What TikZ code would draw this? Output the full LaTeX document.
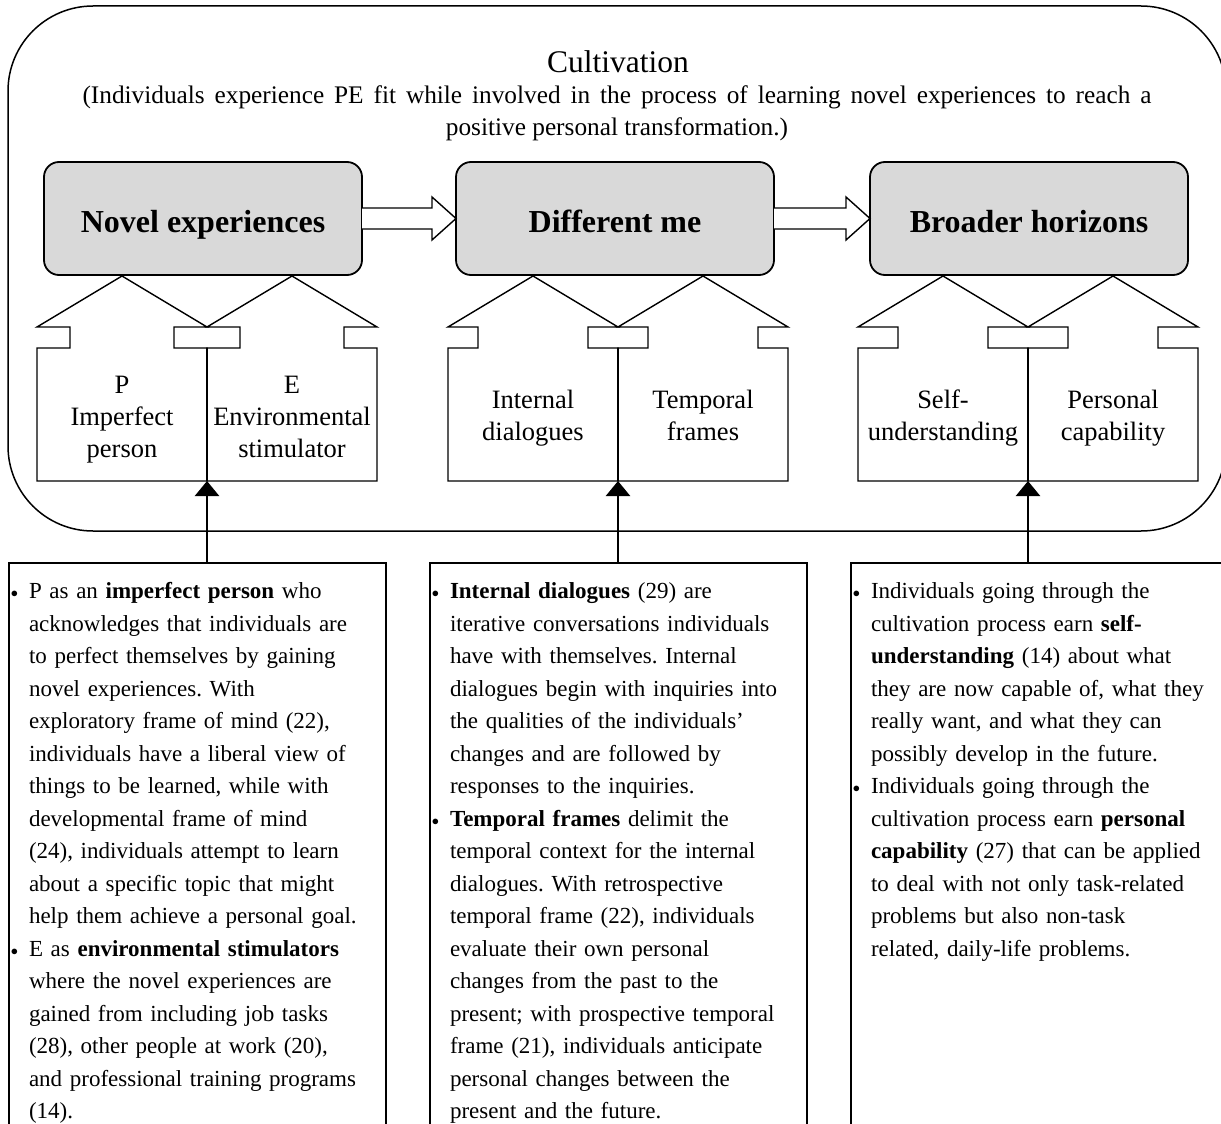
\documentclass[tikz,border=0pt]{standalone}
\usepackage{fontspec}
\setmainfont{Liberation Serif}
\usetikzlibrary{arrows.meta,calc}
\definecolor{boxgray}{HTML}{D9D9D9}
\newcommand\bul{\leavevmode\llap{\raisebox{1pt}{\fontsize{15}{15}\selectfont$\bullet$}\hspace{11pt}}}
\newcommand\drawhouse[3]{%
 \begin{scope}[shift={(#1,0)}]
  \draw[houseline] (-170,481) -- (-170,348) -- (-170+#2,348) -- (-170+#2,327) -- (-170,327) -- (-85,276) -- (0,327) -- (-#2,327) -- (-#2,348) -- (0,348) -- (0,481) -- cycle;
  \draw[houseline] (170,481) -- (170,348) -- (170-#2,348) -- (170-#2,327) -- (170,327) -- (85,276) -- (0,327) -- (#2,327) -- (#2,348) -- (0,348) -- (0,481) -- cycle;
  \coordinate (#3) at (0,481);
  \coordinate (#3top) at (0,348);
  \draw[vline] (#3top) -- (#3);
 \end{scope}}
\begin{document}
\frenchspacing
\begin{tikzpicture}[x=1pt,y=-1pt,
  houseline/.style={line width=1.4pt, line join=miter},
  vline/.style={line width=2.4pt},
  graybox/.style={draw, line width=1.8pt, fill=boxgray, rounded corners=15pt, minimum width=318, minimum height=113, inner sep=0, outer sep=0, text height=30pt, text depth=3pt, font=\fontsize{32}{36}\selectfont\bfseries},
  bbox/.style={draw, line width=1.5pt, anchor=north west, minimum height=700, inner sep=0, outer sep=0},
  bodytext/.style={anchor=north west, inner sep=0, outer sep=0, align=left, text width=370, font=\fontsize{23}{32.5}\selectfont\frenchspacing},
  housetext/.style={inner sep=0, align=center, font=\fontsize{26.5}{32}\selectfont},
  blockarrow/.style={draw, line width=1.4pt, fill=white, line join=miter},
  uparrow/.style={line width=2.4pt, -{Triangle[length=15pt,width=24pt]}}]
\clip (0,0) rectangle (1221,1124);
\fill[white] (0,0) rectangle (1221,1124);
% outer rounded frame
\draw[line width=1.5pt, rounded corners=85pt] (8,6) rectangle (1226,531);
\node[font=\fontsize{31.5}{36}\selectfont, inner sep=0] (title) at (618,62) {Cultivation};
\node[font=\fontsize{25.3}{32}\selectfont\frenchspacing, align=center, inner sep=0] (cap) at (617,113) {\makebox[1069pt][s]{(Individuals experience PE fit while involved in the process of learning novel experiences to reach a}\\positive personal transformation.)};
% gray boxes
\node[graybox] (ne) at (203,218.5) {Novel experiences};
\node[graybox] (dm) at (615,218.5) {Different me};
\node[graybox] (bh) at (1029,218.5) {Broader horizons};
% block arrows
\draw[blockarrow] ($(ne.east)+(0,-10.5)$) -- ($(dm.west)+(-24,-10.5)$) -- ($(dm.west)+(-24,-21.5)$) -- (dm.west) -- ($(dm.west)+(-24,21.5)$) -- ($(dm.west)+(-24,10.5)$) -- ($(ne.east)+(0,10.5)$);
\draw[blockarrow] ($(dm.east)+(0,-10.5)$) -- ($(bh.west)+(-24,-10.5)$) -- ($(bh.west)+(-24,-21.5)$) -- (bh.west) -- ($(bh.west)+(-24,21.5)$) -- ($(bh.west)+(-24,10.5)$) -- ($(dm.east)+(0,10.5)$);
% houses
\drawhouse{207}{33}{hl}
\drawhouse{618}{30}{hm}
\drawhouse{1028}{40}{hr}
\node[housetext] (tp) at (122,419) {\strut P\\\strut Imperfect\\\strut person};
\node[housetext] (te) at (292,419) {\strut E\\\strut Environmental\\\strut stimulator};
\node[housetext] (tid) at (533,418) {\strut Internal\\\strut dialogues};
\node[housetext] (ttf) at (703,418) {\strut Temporal\\\strut frames};
\node[housetext] (tsu) at (943,418) {\strut Self-\\\strut understanding};
\node[housetext] (tpc) at (1113,418) {\strut Personal\\\strut capability};
% bottom boxes
\node[bbox, minimum width=377] (lb) at (9,563) {};
\node[bbox, minimum width=377] (mb) at (430,563) {};
\node[bbox, minimum width=420] (rb) at (851,563) {};
\draw[uparrow] (lb.north -| hl) -- (hl);
\draw[uparrow] (mb.north -| hm) -- (hm);
\draw[uparrow] (rb.north -| hr) -- (hr);
\node[bodytext] (lt) at (29,576.2) {\strut\bul P as an \textbf{imperfect person} who\\
acknowledges that individuals are\\
to perfect themselves by gaining\\
novel experiences. With\\
exploratory frame of mind (22),\\
individuals have a liberal view of\\
things to be learned, while with\\
developmental frame of mind\\
(24), individuals attempt to learn\\
about a specific topic that might\\
help them achieve a personal goal.\\
\bul E as \textbf{environmental stimulators}\\
where the novel experiences are\\
gained from including job tasks\\
(28), other people at work (20),\\
and professional training programs\\
(14).};
\node[bodytext] (mt) at (450,576.2) {\strut\bul\textbf{Internal dialogues} (29) are\\
iterative conversations individuals\\
have with themselves. Internal\\
dialogues begin with inquiries into\\
the qualities of the individuals’\\
changes and are followed by\\
responses to the inquiries.\\
\bul\textbf{Temporal frames} delimit the\\
temporal context for the internal\\
dialogues. With retrospective\\
temporal frame (22), individuals\\
evaluate their own personal\\
changes from the past to the\\
present; with prospective temporal\\
frame (21), individuals anticipate\\
personal changes between the\\
present and the future.};
\node[bodytext] (rt) at (871,576.2) {\strut\bul Individuals going through the\\
cultivation process earn \textbf{self-}\\
\textbf{understanding} (14) about what\\
they are now capable of, what they\\
really want, and what they can\\
possibly develop in the future.\\
\bul Individuals going through the\\
cultivation process earn \textbf{personal}\\
\textbf{capability} (27) that can be applied\\
to deal with not only task-related\\
problems but also non-task\\
related, daily-life problems.};
\end{tikzpicture}
\end{document}
